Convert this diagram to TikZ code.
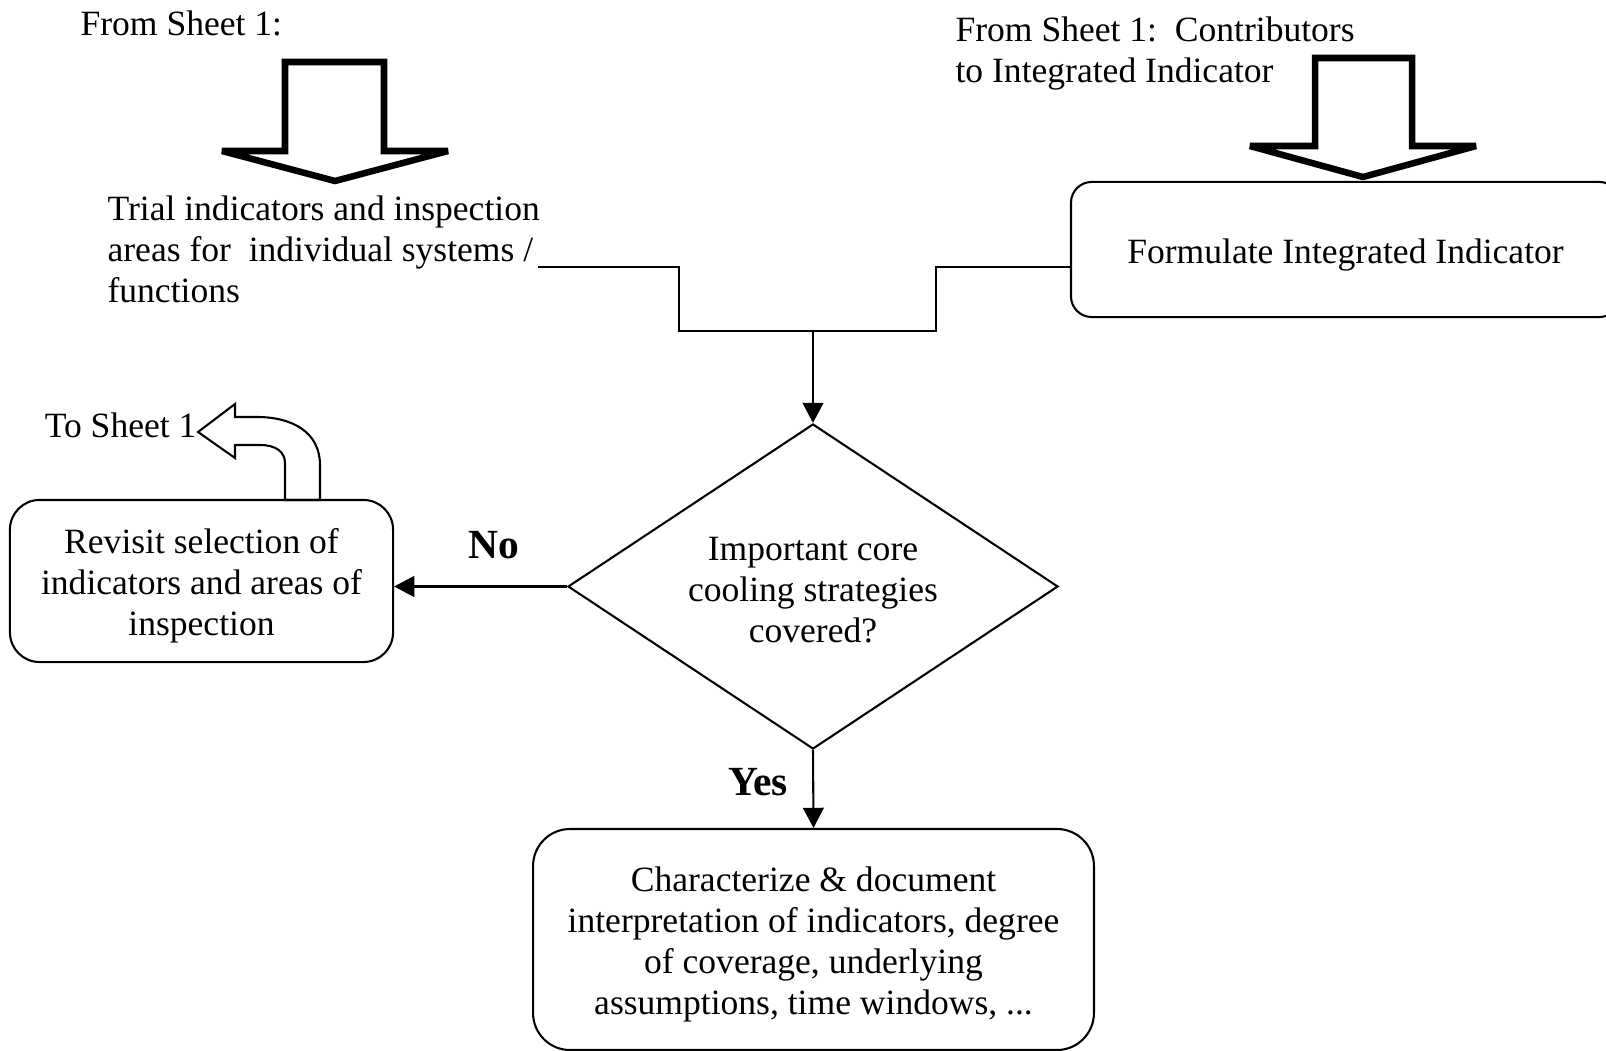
\documentclass[tikz,border=0pt]{standalone}
\usepackage{fontspec}
\setmainfont{Liberation Serif}
\usetikzlibrary{arrows.meta,shapes.geometric}
\begin{document}
\begin{tikzpicture}[x=0.3375pt,y=-0.3375pt,
  txt/.style={font=\fontsize{12}{13.8}\selectfont, inner sep=0pt},
  ctxt/.style={txt, align=center},
  rbox/.style={draw, line width=0.7pt, rounded corners=#1, inner sep=0pt},
  dec/.style={draw, line width=0.7pt, shape=diamond, aspect=1.5, inner sep=0pt},
  conn/.style={line width=0.7pt},
  arr/.style={line width=0.7pt, -{Triangle[length=6.8pt,width=7pt]}},
  bigarrow/.style={line width=2.2pt, line join=miter, miter limit=3},
  curvarrow/.style={line width=0.7pt, line join=miter},
  lbl/.style={font=\fontsize{14}{16}\selectfont\bfseries, inner sep=0pt}
]
\useasboundingbox (0,0) rectangle (1606,1051);

% free texts
\node[txt, anchor=west] (from1) at (80,23) {From Sheet 1:};
\node[txt, anchor=west, align=left] (from2) at (955,53.5) {From Sheet 1:\ \ Contributors\\to Integrated Indicator};
\node[txt, anchor=west, align=left] (trial) at (107,249) {Trial indicators and inspection\\areas for\ \ individual systems /\\functions};
\node[txt, anchor=east] (tosheet) at (197,425) {To Sheet 1};

% boxes
\node[rbox=7pt, minimum width=185.3pt, minimum height=45.6pt] (form) at (1345.5,249.5) {};
\node[ctxt] (formt) at ([yshift=-1.7pt]form.center) {Formulate Integrated Indicator};

\node[dec, minimum width=165.4pt, minimum height=109.7pt] (dia) at (813,586.5) {};
\node[ctxt] (diat) at ([yshift=-1.1pt]dia.center) {Important core\\cooling strategies\\covered?};

\node[rbox=10pt, minimum width=129.3pt, minimum height=54.7pt] (revisit) at (201.5,581) {};
\node[ctxt] (revisitt) at ([yshift=-1.7pt]revisit.center) {Revisit selection of\\indicators and areas of\\inspection};

\node[rbox=12.5pt, minimum width=189.3pt, minimum height=74.6pt] (charac) at (813.5,939.5) {};
\node[ctxt] (charact) at ([yshift=-1.7pt]charac.center) {Characterize \& document\\interpretation of indicators, degree\\of coverage, underlying\\assumptions, time windows, ...};

% labels
\node[lbl] (no) at (494,545) {No};
\node[lbl] (yes) at (758,782) {Yes};

% connectors
\coordinate (t0) at (538,267);
\coordinate (t1) at (679,267);
\coordinate (t2) at (679,331);
\coordinate (jm) at (813,331);
\coordinate (f2) at (936,331);
\coordinate (f1) at (936,267);
\draw[conn] (t0) -- (t1) -- (t2) -- (f2) -- (f1) -- (f1 -| form.west);
\draw[arr] (jm) -- (dia.north);
\draw[arr] (dia.west) -- (dia.west -| revisit.east);
\draw[arr] (dia.south) -- (charac.north);

% big block arrows
\draw[bigarrow] (285,62) -- (285,151) -- (222,151) -- (335,181) -- (448,151) -- (384,151) -- (384,62) -- cycle;
\draw[bigarrow] (1315,58) -- (1315,146) -- (1250,146) -- (1363,177) -- (1476,146) -- (1412,146) -- (1412,58) -- cycle;

% curved arrow to sheet 1
\draw[curvarrow] (198,432) -- (235,404) -- (235,417) -- (257,417)
  .. controls (292,417) and (320,432) .. (320,465) -- (320,500) -- (285,500) -- (285,463)
  .. controls (285,452) and (276,445) .. (260,445) -- (235,445) -- (235,458) -- cycle;
\end{tikzpicture}
\end{document}
